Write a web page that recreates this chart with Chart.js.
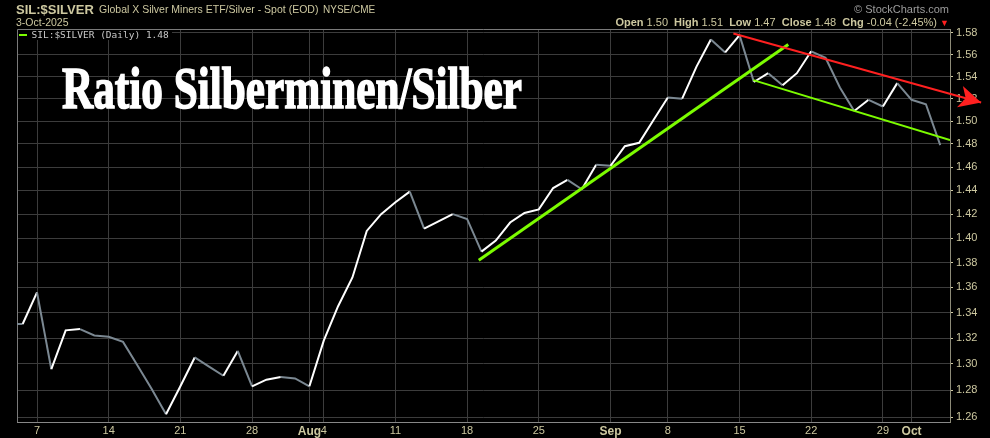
<!DOCTYPE html>
<html>
<head>
<meta charset="utf-8">
<script src="https://cdn.jsdelivr.net/npm/chart.js@4.4.1/dist/chart.umd.min.js"></script>
<style>
html, body { margin: 0; padding: 0; background: #000; overflow: hidden; }
#wrap { position: relative; width: 990px; height: 438px; }
#c { position: absolute; left: 0; top: 0; }
.t { position: absolute; white-space: nowrap; line-height: 1; font-family: "Liberation Sans", Arial, sans-serif; color: #cdc8a0; }
.b { font-weight: bold; }
#title { left: 62px; top: 57.7px; font-family: "Liberation Serif", serif; font-weight: bold; font-size: 60px; color: #fff; transform-origin: 0 0; -webkit-text-stroke: 1.6px #fff; }
#legbox { position: absolute; left: 18px; top: 30px; width: 154px; height: 10px; background: #000; }
#legdash { position: absolute; left: 19px; top: 33.5px; width: 8px; height: 2px; background: #7cfc00; }
#legtxt { left: 31.5px; top: 29.5px; font-family: "DejaVu Sans Mono", monospace; font-size: 9.5px; color: #c8c8c8; }
</style>
</head>
<body>
<div id="wrap">
  <canvas id="c" width="990" height="438"></canvas>
  <div class="t b" style="left:16px; top:2.8px; font-size:13px;">SIL:$SILVER</div>
  <div class="t" style="left:99px; top:4.4px; font-size:10.5px;">Global X Silver Miners ETF/Silver - Spot (EOD)</div>
  <div class="t" style="left:323px; top:4.8px; font-size:10px;">NYSE/CME</div>
  <div class="t" style="left:16px; top:17.1px; font-size:10.5px;">3-Oct-2025</div>
  <div class="t" style="right:41px; top:4.2px; font-size:11px; color:#9c9c9c;">© StockCharts.com</div>
  <div class="t" style="right:41px; top:16.7px; font-size:11px;"><span class="b">Open</span> 1.50 &nbsp;<span class="b">High</span> 1.51 &nbsp;<span class="b">Low</span> 1.47 &nbsp;<span class="b">Close</span> 1.48 &nbsp;<span class="b">Chg</span> -0.04 (-2.45%) <span style="color:#ff2020; font-size:9px;">▼</span></div>
  <div id="legbox"></div>
  <div id="legdash"></div>
  <div class="t" id="legtxt">SIL:$SILVER (Daily) 1.48</div>
  <div class="t" id="title">Ratio Silberminen/Silber</div>
</div>
<script>
// trading days shown (Jul 2 is just left of the plot edge)
const dates = [
  '2025-07-02','2025-07-03','2025-07-07','2025-07-08','2025-07-09','2025-07-10','2025-07-11',
  '2025-07-14','2025-07-15','2025-07-16','2025-07-17','2025-07-18',
  '2025-07-21','2025-07-22','2025-07-23','2025-07-24','2025-07-25',
  '2025-07-28','2025-07-29','2025-07-30','2025-07-31','2025-08-01',
  '2025-08-04','2025-08-05','2025-08-06','2025-08-07','2025-08-08',
  '2025-08-11','2025-08-12','2025-08-13','2025-08-14','2025-08-15',
  '2025-08-18','2025-08-19','2025-08-20','2025-08-21','2025-08-22',
  '2025-08-25','2025-08-26','2025-08-27','2025-08-28','2025-08-29',
  '2025-09-02','2025-09-03','2025-09-04','2025-09-05',
  '2025-09-08','2025-09-09','2025-09-10','2025-09-11','2025-09-12',
  '2025-09-15','2025-09-16','2025-09-17','2025-09-18','2025-09-19',
  '2025-09-22','2025-09-23','2025-09-24','2025-09-25','2025-09-26',
  '2025-09-29','2025-09-30','2025-10-01','2025-10-02','2025-10-03'
];
const ratio = [
  1.331, 1.331, 1.356, 1.296, 1.326, 1.327, 1.322,
  1.321, 1.317, 1.299, 1.281, 1.262,
  1.283, 1.305, 1.298, 1.291, 1.310,
  1.283, 1.288, 1.290, 1.289, 1.283,
  1.318, 1.345, 1.368, 1.406, 1.420,
  1.430, 1.439, 1.408, 1.414, 1.420,
  1.416, 1.389, 1.398, 1.413, 1.421,
  1.424, 1.442, 1.449, 1.441, 1.462,
  1.461, 1.478, 1.481, 1.501,
  1.521, 1.520, 1.549, 1.574, 1.562,
  1.578, 1.535, 1.543, 1.532, 1.543,
  1.563, 1.557, 1.530, 1.509, 1.519,
  1.513, 1.534, 1.519, 1.515, 1.479
];

const tickDates = ['2025-07-07','2025-07-14','2025-07-21','2025-07-28','2025-08-01','2025-08-04','2025-08-11',
  '2025-08-18','2025-08-25','2025-09-02','2025-09-08','2025-09-15','2025-09-22','2025-09-29','2025-10-01'];
const tickText = ['7','14','21','28','Aug','4','11','18','25','Sep','8','15','22','29','Oct'];
const monthTicks = ['Aug','Sep','Oct'];
const yTicks = [1.26,1.28,1.30,1.32,1.34,1.36,1.38,1.40,1.42,1.44,1.46,1.48,1.50,1.52,1.54,1.56,1.58];

// hand-drawn trend lines: [day index, ratio]
const greenRise = [[32.81, 1.382], [54.40, 1.5693]];
const greenChannel = [[51.96, 1.5367], [65.68, 1.4833]];
const redChannel = [[50.57, 1.5795], [67.85, 1.5166]];

const xMin = 0.605, xMax = 65.68;
const yMin = 1.2563, yMax = 1.5837;

const tan = '#cdc8a0';
const gridCol = '#3c3c3c';
const green = '#7cfc00';
const red = '#ff2020';

const labelAt = {};
tickDates.forEach((d, i) => { labelAt[dates.indexOf(d)] = tickText[i]; });

const pts = arr => arr.map(p => ({x: p[0], y: p[1]}));

const frame = {
  id: 'frame',
  beforeDatasetsDraw(chart) {
    const {ctx, chartArea: a} = chart;
    ctx.save();
    ctx.strokeStyle = '#7a7a7a';
    ctx.lineWidth = 1;
    ctx.beginPath();
    ctx.moveTo(a.left + 0.5, a.bottom);
    ctx.lineTo(a.left + 0.5, a.top + 0.5);
    ctx.lineTo(a.right, a.top + 0.5);
    ctx.stroke();
    ctx.restore();
  }
};

const arrowHead = {
  id: 'arrowHead',
  afterDatasetsDraw(chart) {
    const p = chart.getDatasetMeta(0).data;
    const a = p[p.length - 2], b = p[p.length - 1];
    const ang = Math.atan2(b.y - a.y, b.x - a.x);
    const ctx = chart.ctx;
    ctx.save();
    ctx.translate(b.x, b.y);
    ctx.rotate(ang);
    ctx.beginPath();
    ctx.moveTo(0, 0);
    ctx.lineTo(-22, -11);
    ctx.lineTo(-16, 0);
    ctx.lineTo(-22, 11);
    ctx.closePath();
    ctx.fillStyle = red;
    ctx.fill();
    ctx.restore();
  }
};

const ctx = document.getElementById('c').getContext('2d');
new Chart(ctx, {
  type: 'line',
  data: {
    datasets: [
      { data: pts(redChannel), borderColor: red, borderWidth: 2, pointRadius: 0, clip: false },
      { data: pts(greenRise), borderColor: green, borderWidth: 3, pointRadius: 0 },
      { data: pts(greenChannel), borderColor: green, borderWidth: 2, pointRadius: 0 },
      {
        data: dates.map((d, i) => ({x: i, y: ratio[i]})),
        borderColor: '#ffffff',
        borderWidth: 2,
        pointRadius: 0,
        tension: 0,
        segment: {
          borderColor: c => c.p1.parsed.y > c.p0.parsed.y ? '#ffffff' : '#7b8892'
        }
      }
    ]
  },
  options: {
    responsive: false,
    animation: false,
    layout: { padding: { left: 17, top: 29, right: 0, bottom: 0 } },
    plugins: { legend: { display: false }, tooltip: { enabled: false } },
    scales: {
      x: {
        type: 'linear',
        min: xMin,
        max: xMax,
        bounds: 'data',
        afterBuildTicks: s => { s.ticks = dates.slice(1).map((d, i) => ({value: i + 1})); },
        afterFit: s => { s.height = 16; },
        ticks: {
          autoSkip: false,
          maxRotation: 0,
          padding: 2,
          color: tan,
          font: c => ({
            family: '"Liberation Sans", Arial, sans-serif',
            size: monthTicks.includes(labelAt[c.tick && c.tick.value]) ? 12 : 11,
            weight: monthTicks.includes(labelAt[c.tick && c.tick.value]) ? 'bold' : 'normal'
          }),
          callback: v => labelAt[v] || ''
        },
        grid: {
          color: c => (c.tick && labelAt[c.tick.value]) ? gridCol : 'rgba(0,0,0,0)',
          drawTicks: false
        },
        border: { color: '#888888' }
      },
      y: {
        type: 'logarithmic',
        position: 'right',
        min: yMin,
        max: yMax,
        bounds: 'data',
        afterBuildTicks: s => { s.ticks = yTicks.map(v => ({value: v})); },
        afterFit: s => { s.width = 40; },
        ticks: {
          color: tan,
          padding: 3,
          font: { family: '"Liberation Sans", Arial, sans-serif', size: 11 },
          callback: v => Number(v).toFixed(2)
        },
        grid: { color: gridCol, tickLength: 3, tickColor: tan },
        border: { color: '#8d8b78' }
      }
    }
  },
  plugins: [frame, arrowHead]
});

// squeeze the headline to the condensed width of the original
function fitTitle() {
  const tt = document.getElementById('title');
  tt.style.transform = 'none';
  const w = tt.getBoundingClientRect().width;
  tt.style.transform = 'scaleX(' + (460 / w) + ')';
}
fitTitle();
if (document.fonts) document.fonts.ready.then(fitTitle);
</script>
</body>
</html>
